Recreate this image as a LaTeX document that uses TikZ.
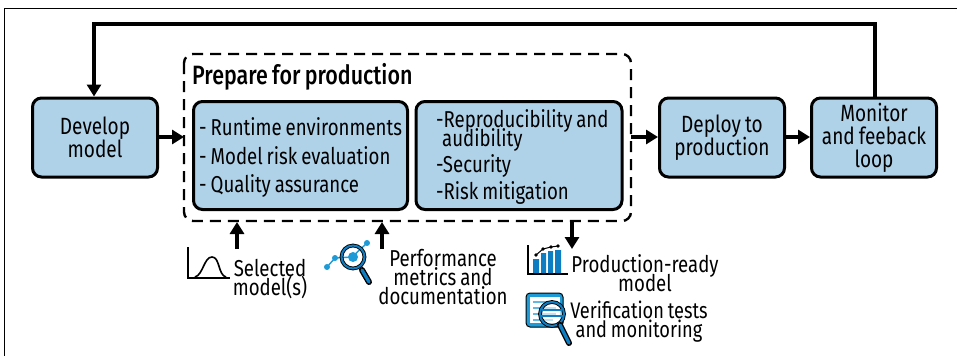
\documentclass[tikz,border=0pt]{standalone}
\usepackage{fontspec}
\setmainfont[FakeStretch=0.81,WordSpace=0.8]{Fira Sans}
\newfontfamily\titlefont[FakeStretch=0.81,WordSpace=0.8]{Fira Sans Medium}
\usetikzlibrary{arrows.meta}
\definecolor{boxblue}{HTML}{AFD2E9}
\definecolor{iconblue}{HTML}{0F7DC2}
\definecolor{iconlight}{HTML}{1E9BD7}
\newcommand{\tightlines}{\lineskiplimit=-100pt\relax}
\tikzset{
  x=1pt,y=-1pt,
  box/.style={draw=black,fill=boxblue,line width=3pt,rounded corners=9pt,inner sep=0pt,align=center,font=\fontsize{23.5}{23}\selectfont\tightlines},
  lst/.style={draw=black,fill=boxblue,line width=3pt,rounded corners=9pt,inner sep=0pt},
  txt/.style={inner sep=0pt,align=center,font=\fontsize{23}{19}\selectfont\tightlines},
  ltxt/.style={inner sep=0pt,anchor=west,font=\fontsize{23}{22}\selectfont\tightlines},
  flow/.style={line width=3.2pt,-{Triangle[length=12pt,width=14pt]}},
  frame/.style={draw=black,line width=1.6pt},
  group/.style={draw=black,line width=2.4pt,dash pattern=on 11pt off 7pt,rounded corners=9pt}
}
\begin{document}
\begin{tikzpicture}
\useasboundingbox (0,0) rectangle (957,356);
\fill[white] (0,0) rectangle (957,356);
\draw[frame] (957,8.5) -- (4.5,8.5) -- (4.5,356);
\draw[group] (184,54) rectangle (631,221);
\node[box,minimum width=125pt,minimum height=79pt] (dev) at (95,137.5) {Develop\\model};
\node[lst,minimum width=214pt,minimum height=108pt] (a) at (300.5,155.5) {};
\node[lst,minimum width=206pt,minimum height=108pt] (b) at (519,155.5) {};
\node[box,minimum width=125pt,minimum height=79pt] (dep) at (722,137.5) {Deploy to\\production};
\node[box,minimum width=125pt,minimum height=79pt] (mon) at (874,137.5) {Monitor\\and feeback\\loop};
\node[ltxt,font=\fontsize{26.5}{26}\titlefont\selectfont] (title) at (192,77) {Prepare for production};
\node[ltxt] (a1) at (199,127) {- Runtime environments};
\node[ltxt] (a2) at (199,156) {- Model risk evaluation};
\node[ltxt] (a3) at (199,186) {- Quality assurance};
\node[ltxt,align=left,font=\fontsize{23}{19.5}\selectfont\tightlines] (b1) at (436,130.5) {-Reproducibility and\\\hspace*{6pt}audibility};
\node[ltxt] (b2) at (436,165.5) {-Security};
\node[ltxt] (b3) at (436,192.5) {-Risk mitigation};
\coordinate (gl) at (184,137);
\coordinate (gr) at (631,137);
\coordinate (gb1) at (237,222);
\coordinate (gb2) at (382,222);
\coordinate (gb3) at (572,222);
\coordinate (s1) at (237,249);
\coordinate (s2) at (382,249);
\coordinate (s3) at (572,249);
\draw[flow] (dev.east |- gl) -- (gl);
\draw[flow] (gr) -- (dep.west |- gr);
\draw[flow] (dep.east |- gr) -- (mon.west |- gr);
\draw[flow] (s1) -- (gb1);
\draw[flow] (s2) -- (gb2);
\draw[flow] (gb3) -- (s3);
\coordinate (tr) at (875,24);
\coordinate (tl) at (94,24);
\draw[flow] (mon.north -| tr) -- (tr) -- (tl) -- (dev.north -| tl);
\node[txt] (l1) at (270,279) {Selected\\model(s)};
\node[txt] (l2) at (443,277.5) {Performance\\metrics and\\documentation};
\node[txt] (l3) at (645,273) {Production-ready\\model};
\node[txt,font=\fontsize{22.5}{19}\selectfont\tightlines] (l4) at (639,322) {Verification tests\\and monitoring};
% bell curve icon
\draw[line width=1.6pt] (188,247) -- (188,278) -- (230,278);
\draw[line width=1.6pt] (195,277) .. controls (203,275) and (204,257) .. (212,257) .. controls (220,257) and (218,275) .. (226,277);
% magnifier with chart
\draw[iconlight,line width=1.4pt] (327,267) -- (335,258) -- (352,257) -- (367,243);
\fill[iconlight] (327,267) circle (3pt) (335,258) circle (3pt) (367,243) circle (3pt) (353,257) circle (5pt);
\draw[black,line width=3.8pt] (353,257) circle (11.5pt);
\draw[iconblue,line width=2pt] (353,257) circle (11.5pt);
\draw[black,line width=6pt,line cap=round] (362,270) -- (369,282);
\draw[iconblue,line width=3.2pt,line cap=round] (362,270) -- (369,282);
% bars icon
\draw[line width=1.4pt] (528,245) -- (528,274) -- (568,274);
\fill[iconblue] (533,259) rectangle (539,273) (541,253) rectangle (546,273) (548,251) rectangle (553,273) (555,250) rectangle (561,273);
\draw[line width=1pt] (536,255) -- (543,249) -- (551,247) -- (558,246);
\fill (536,255) circle (1.8pt) (543,249) circle (1.8pt) (551,247) circle (1.8pt) (558,246) circle (1.8pt);
% document icon
\draw[black,fill=iconlight,line width=1pt,rounded corners=4pt] (526,293) rectangle (563,327);
\fill[white] (530,297) rectangle (560,323);
\draw[iconlight!70,line width=1.6pt] (533,302) -- (553,302) (533,308) -- (556,308) (533,314) -- (556,314) (533,320) -- (553,320);
\draw[black,fill=white,fill opacity=.6,line width=3.8pt] (552,314) circle (12pt);
\draw[iconblue,line width=2pt] (552,314) circle (12pt);
\draw[iconblue,line width=2pt] (542,310) -- (562,310) (541,316) -- (563,316);
\draw[black,line width=6pt,line cap=round] (560,325) -- (569,343);
\draw[iconblue,line width=3.2pt,line cap=round] (560,325) -- (569,343);
\end{tikzpicture}
\end{document}
